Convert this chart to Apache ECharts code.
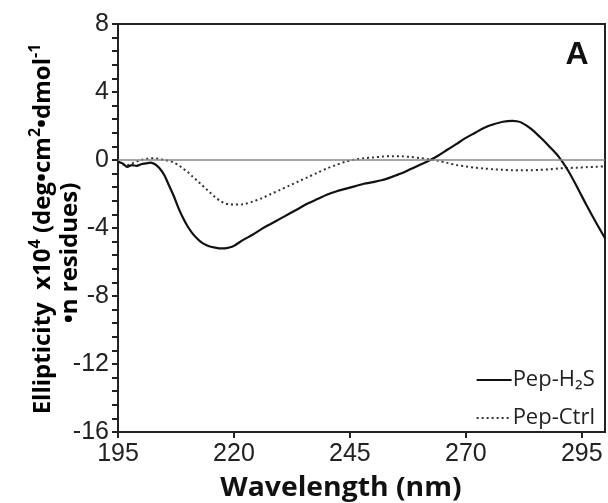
<!DOCTYPE html>
<html>
<head>
<meta charset="utf-8">
<script src="https://cdn.jsdelivr.net/npm/echarts@6/dist/echarts.min.js"></script>
<style>html,body{margin:0;padding:0;background:#fff}#c{width:608px;height:503px}</style>
</head>
<body>
<div id="c"></div>
<script>
const xTicks = [195, 220, 245, 270, 295];
const seriesNames = ['Pep-H\u2082S', 'Pep-Ctrl'];
const h2sX = [195,196,197,198,199,200,201,202,203,204,205,206,207,208,209,210,211,212,213,214,215,216,217,218,219,220,222,224,226,228,230,232,234,236,238,240,242,244,246,248,250,252,254,256,258,260,262,264,266,268,270,272,274,276,278,280,281,282,284,286,288,290,292,294,296,298,300];
const h2sY = [-0.1,-0.2,-0.4,-0.3,-0.35,-0.25,-0.2,-0.15,-0.25,-0.5,-0.9,-1.5,-2.1,-2.8,-3.4,-3.9,-4.3,-4.6,-4.85,-5.0,-5.1,-5.15,-5.2,-5.2,-5.15,-5.05,-4.7,-4.4,-4.05,-3.75,-3.45,-3.15,-2.85,-2.55,-2.3,-2.05,-1.85,-1.7,-1.55,-1.4,-1.3,-1.18,-1.0,-0.8,-0.55,-0.3,-0.05,0.25,0.6,0.95,1.3,1.6,1.9,2.1,2.25,2.3,2.28,2.2,1.85,1.35,0.8,0.2,-0.6,-1.6,-2.65,-3.65,-4.6];
const ctrlX = [195,196,197,198,199,200,201,202,203,204,205,206,207,208,209,210,211,212,213,214,215,216,217,218,219,220,222,224,226,228,230,232,234,236,238,240,242,244,246,248,250,252,254,256,258,260,262,264,266,268,270,272,274,276,278,280,282,284,286,288,290,292,294,296,298,300];
const ctrlY = [-0.1,-0.25,-0.3,-0.2,-0.1,0.0,0.05,0.1,0.1,0.05,0.0,-0.05,-0.15,-0.3,-0.5,-0.7,-0.95,-1.2,-1.45,-1.7,-1.95,-2.2,-2.4,-2.55,-2.6,-2.62,-2.6,-2.45,-2.25,-2.0,-1.75,-1.5,-1.25,-1.0,-0.75,-0.5,-0.3,-0.1,0.02,0.1,0.15,0.2,0.22,0.22,0.18,0.12,0.05,-0.05,-0.17,-0.3,-0.38,-0.45,-0.5,-0.55,-0.58,-0.6,-0.6,-0.6,-0.58,-0.55,-0.5,-0.47,-0.45,-0.42,-0.4,-0.37];

const zip = (xs, ys) => xs.map((x, i) => [x, ys[i]]);
const chart = echarts.init(document.getElementById('c'), null, {renderer: 'canvas'});
const axisColor = '#222';
const titleFont = 'Open Sans';
const rich = {
  t: {fontFamily: titleFont, fontWeight: 'bold', fontSize: 24, color: '#111', lineHeight: 30, verticalAlign: 'bottom'},
  s: {fontFamily: titleFont, fontWeight: 'bold', fontSize: 16, color: '#111', lineHeight: 30, verticalAlign: 'top', padding: [2, 0, 0, 0]}
};
chart.setOption({
  animation: false,
  backgroundColor: '#fff',
  grid: {left: 118, right: 3, top: 24, bottom: 71, show: true, borderColor: axisColor, borderWidth: 2, backgroundColor: 'transparent'},
  xAxis: {
    type: 'value', min: 195, max: 300,
    axisLine: {show: true, onZero: false, lineStyle: {color: axisColor, width: 2}},
    axisTick: {show: true, customValues: xTicks, length: 6, inside: false, lineStyle: {color: axisColor, width: 2}},
    axisLabel: {customValues: xTicks, color: '#222', fontFamily: 'Liberation Sans', fontSize: 25, margin: 10},
    splitLine: {show: false}
  },
  yAxis: {
    type: 'value', min: -16, max: 8, interval: 4,
    axisLine: {show: true, onZero: false, lineStyle: {color: axisColor, width: 2}},
    axisTick: {show: true, length: 6, inside: false, lineStyle: {color: axisColor, width: 2}},
    minorTick: {show: true, splitNumber: 5, length: 6, lineStyle: {color: axisColor, width: 2}},
    axisLabel: {color: '#222', fontFamily: 'Liberation Sans', fontSize: 25, margin: 9},
    splitLine: {show: false}
  },
  legend: {
    orient: 'vertical', right: 8, top: 364, itemWidth: 35, itemHeight: 14, itemGap: 16,
    itemStyle: {opacity: 0, borderWidth: 0},
    textStyle: {fontFamily: titleFont, fontSize: 22, color: '#222', padding: [0, 0, 0, -4]},
    data: seriesNames
  },
  series: [
    {
      name: seriesNames[0], type: 'line', data: zip(h2sX, h2sY), showSymbol: false, symbol: 'none', smooth: 0.3,
      lineStyle: {color: '#111', width: 2.2, type: 'solid'}, itemStyle: {color: '#111'},
      markLine: {silent: true, symbol: 'none', label: {show: false}, lineStyle: {color: '#888', width: 1.5, type: 'solid'}, data: [{yAxis: 0}]},
      z: 3
    },
    {
      name: seriesNames[1], type: 'line', data: zip(ctrlX, ctrlY), showSymbol: false, symbol: 'none', smooth: 0.3,
      lineStyle: {color: '#333', width: 2, type: [2, 3]}, itemStyle: {color: '#333'},
      z: 2
    }
  ],
  graphic: [
    {type: 'text', x: 577, y: 55, style: {text: 'A', font: 'bold 32px "Liberation Sans"', fill: '#111', align: 'center', verticalAlign: 'middle'}},
    {type: 'text', x: 341, y: 489, scaleX: 1.09, style: {text: 'Wavelength (nm)', font: 'bold 26px "Open Sans"', fill: '#111', align: 'center', verticalAlign: 'middle'}},
    {type: 'text', x: 40, y: 229, rotation: Math.PI / 2, style: {text: '{t|Ellipticity  x10}{s|4}{t| (deg\u2022cm}{s|2}{t|\u2022dmol}{s|-1}', rich: rich, align: 'center', verticalAlign: 'middle'}},
    {type: 'text', x: 67, y: 253, rotation: Math.PI / 2, style: {text: '{t|\u2022n residues)}', rich: rich, align: 'center', verticalAlign: 'middle'}}
  ]
});
</script>
</body>
</html>
